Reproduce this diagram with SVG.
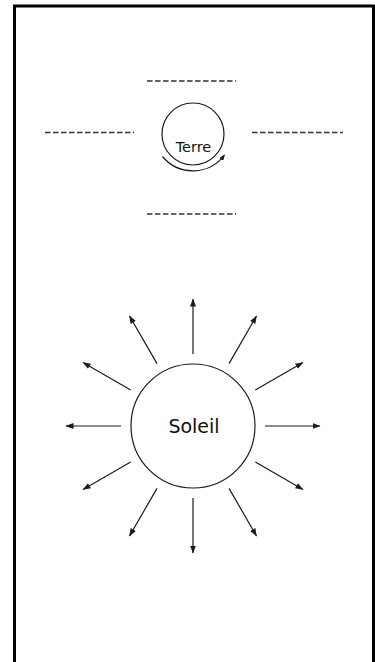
<svg xmlns="http://www.w3.org/2000/svg" width="375" height="662" viewBox="0 0 375 662">
<defs>
<marker id="ah" markerUnits="userSpaceOnUse" markerWidth="8" markerHeight="6" refX="7.5" refY="3" orient="auto"><path d="M0,0 L8,3 L0,6 z" fill="#1a1a1a"/></marker>
<marker id="ahs" markerUnits="userSpaceOnUse" markerWidth="6" markerHeight="5" refX="5.5" refY="2.5" orient="auto"><path d="M0,0 L6,2.5 L0,5 z" fill="#1a1a1a"/></marker>
<style>
.dash{stroke:#333;stroke-width:1.3;stroke-dasharray:5.5 2.5;fill:none}
.ray{stroke:#1a1a1a;stroke-width:1.2;fill:none;marker-end:url(#ah)}
.body{fill:#fff;stroke:#1a1a1a;stroke-width:1.2}
.lbl{font-family:"DejaVu Sans",sans-serif;fill:#111;text-anchor:middle}
</style>
</defs>
<rect x="0" y="0" width="375" height="662" fill="#fff"/>
<rect x="14.5" y="6" width="359" height="670" fill="#fff" stroke="#000" stroke-width="3"/>
<g id="orbite">
<line class="dash" x1="147" y1="81" x2="236" y2="81"/>
<line class="dash" x1="45" y1="132.5" x2="134" y2="132.5"/>
<line class="dash" x1="252" y1="132.5" x2="343" y2="132.5"/>
<line class="dash" x1="147" y1="214" x2="236" y2="214"/>
</g>
<g id="terre">
<circle class="body" cx="193" cy="134" r="31"/>
<text class="lbl" x="193.5" y="152" font-size="14.5">Terre</text>
<path d="M162.5 156.5 A39.5 39.5 0 0 0 224.5 155" fill="none" stroke="#1a1a1a" stroke-width="1.2" marker-end="url(#ahs)"/>
</g>
<g id="soleil">
<circle class="body" cx="193" cy="426" r="62"/>
<text class="lbl" x="194" y="433" font-size="19">Soleil</text>
</g>
<g id="rayons">
<line class="ray" x1="265" y1="426" x2="320" y2="426"/>
<line class="ray" x1="255.35" y1="462" x2="302.98" y2="489.5"/>
<line class="ray" x1="229" y1="488.35" x2="256.5" y2="535.98"/>
<line class="ray" x1="193" y1="498" x2="193" y2="553"/>
<line class="ray" x1="157" y1="488.35" x2="129.5" y2="535.98"/>
<line class="ray" x1="130.65" y1="462" x2="83.02" y2="489.5"/>
<line class="ray" x1="121" y1="426" x2="66" y2="426"/>
<line class="ray" x1="130.65" y1="390" x2="83.02" y2="362.5"/>
<line class="ray" x1="157" y1="363.65" x2="129.5" y2="316.02"/>
<line class="ray" x1="193" y1="354" x2="193" y2="299"/>
<line class="ray" x1="229" y1="363.65" x2="256.5" y2="316.02"/>
<line class="ray" x1="255.35" y1="390" x2="302.98" y2="362.5"/>
</g>
</svg>
